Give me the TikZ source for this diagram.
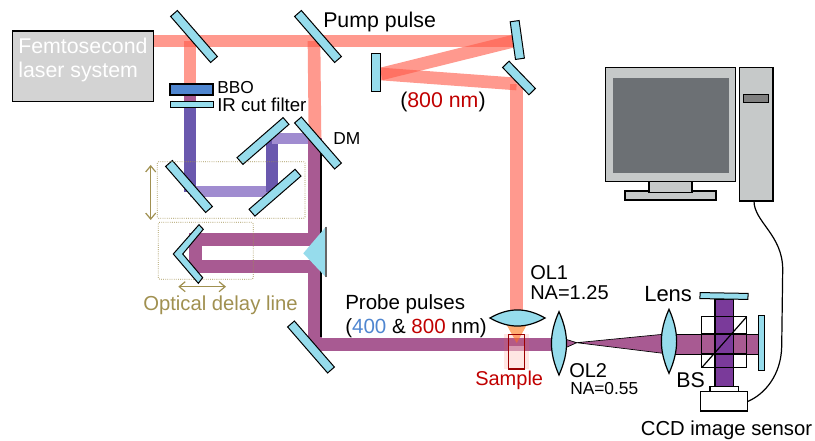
\documentclass[tikz,border=0pt]{standalone}
\usepackage{fontspec}
\setmainfont{Liberation Sans}
\usetikzlibrary{arrows.meta, backgrounds}

\definecolor{mirrorblue}{HTML}{96DCEC}
\definecolor{bbo}{HTML}{4F86D0}
\definecolor{darkred}{HTML}{C00000}
\definecolor{olive}{HTML}{A09050}
\definecolor{pump}{HTML}{FF5A48}
\definecolor{violet}{HTML}{6A58AE}
\definecolor{lilac}{HTML}{A08CD0}
\definecolor{probe}{HTML}{A85A92}
\definecolor{camera}{HTML}{7A3A9A}
\definecolor{pc}{HTML}{C6C9C9}
\definecolor{laserfill}{HTML}{D3D3D3}
\definecolor{screenfill}{HTML}{6C7074}

\begin{document}
\begin{tikzpicture}[
            x = 0.75pt,
            y = -0.75pt,
            > = {Straight Barb[length=4.5pt,width=7.5pt]}, % open head for the stage arrows
        ]

        \useasboundingbox (0,0) rectangle (815,441);

        \tikzstyle{mirror}=[
            draw = black,
            line width = 0.75pt,
            fill = mirrorblue,
            inner sep = 0pt,
            minimum width = 61*0.75pt,
            minimum height = 9*0.75pt
        ]
        \tikzstyle{smallmirror}=[
            mirror,
            minimum width = 38*0.75pt
        ]
        \tikzstyle{pumpbeam}=[draw = pump, opacity = 0.62, line width = 9.5pt]
        \tikzstyle{bluebeam}=[draw = violet, line width = 8.5pt]
        \tikzstyle{lilacbeam}=[draw = lilac, line width = 8.5pt]
        \tikzstyle{probebeam}=[draw = probe, line width = 10pt]
        \tikzstyle{lens}=[draw = black, line width = 0.9pt, fill = mirrorblue]
        \tikzstyle{stagebox}=[draw = olive, densely dotted, line width = 0.6pt, rounded corners = 1pt]
        \tikzstyle{stagearrow}=[draw = olive, line width = 0.9pt, <->]
        \tikzstyle{pcpart}=[draw = black, line width = 1pt, fill = pc]
        \tikzstyle{label}=[anchor = base west, inner sep = 0pt]

        % mirrors
        \foreach \name/\x/\y/\a in {m1/194/36.5/-49, m2/318/36.5/-49, m3/189/186.5/-49,
                                    dm/318/143/-49, m4/263/141/41, m5/275/192.7/41, m6/311/347/-49}
            \node[mirror, rotate=\a] (\name) at (\x,\y) {};

        \foreach \name/\x/\y/\a in {z1/517.3/40/-82, z2/376.2/72.5/90, z3/519/78/-46}
            \node[smallmirror, rotate=\a] (\name) at (\x,\y) {};

        \node[draw=black, fill=mirrorblue, line width=0.75pt, inner sep=0pt, minimum width=48*0.75pt,
              minimum height=6*0.75pt, rotate=-1] (top) at (724,296) {};
        \node[draw=black, fill=mirrorblue, line width=0.75pt, inner sep=0pt, minimum width=6*0.75pt,
              minimum height=55*0.75pt] (end) at (761.3,343.3) {};

        \node[draw=black, line width=0.9pt, fill=laserfill, inner sep=0pt, minimum width=141*0.75pt,
              minimum height=70.5*0.75pt] (laser) at (83,66.2) {};

        \node[draw=black, line width=1.4pt, fill=bbo, inner sep=0pt, minimum width=43*0.75pt,
              minimum height=11*0.75pt] (crystal) at (191.5,89.5) {};
        \node[draw=black, line width=0.7pt, fill=mirrorblue, inner sep=0pt, minimum width=43*0.75pt,
              minimum height=6*0.75pt] (filter) at (191.5,104.3) {};

        % beam points
        \coordinate (a0) at (153.5,41);
        \coordinate (a1) at (190,41);
        \coordinate (a2) at (314,41);
        \coordinate (a3) at (514,41);
        \coordinate (a4) at (381,74);
        \coordinate (a5) at (516.7,84);
        \coordinate (a6) at (516.7,325);
        \coordinate (b0) at (190,96);
        \coordinate (b1) at (190,101.5);
        \coordinate (b2) at (190,191.7);
        \coordinate (b3) at (272,191.7);
        \coordinate (b4) at (272,138.5);
        \coordinate (b5) at (315,138.5);
        \coordinate (c0) at (315,239.5);
        \coordinate (c1) at (195.7,239.5);
        \coordinate (c2) at (195.7,266.7);
        \coordinate (c3) at (315,266.7);
        \coordinate (c4) at (315,344.5);
        \coordinate (c5) at (553,344.5);

        \begin{scope}[on background layer]
            \foreach \from/\to in {a0/a1, a1/a2, a2/a3, a3/a4, a4/a5, a5/a6, a1/b0, a2/b5}
                \path[pumpbeam] (\from) -- (\to);

            \path[draw=probe, line width=8.5pt] (b0) -- (b1);
            \path[bluebeam] (b1) -- (b2);
            \path[lilacbeam] (b2) -- (b3);
            \path[bluebeam] (b3) -- (b4);
            \path[lilacbeam] (b4) -- (b5);

            \path[probebeam, line join=miter] (b5) -- (c0) -- (c1) -- (c2) -- (c3) -- (c4) -- (c5);

            % black edge along the probe
            \draw[line width=1.2pt] (320.7,153) -- (320.7,337);

            % focus in the sample
            \fill[orange!70!pump, opacity=0.6] (506.7,325) -- (526.7,325) -- (516.7,343) -- cycle;
            \fill[white, opacity=0.45] (508.3,346) rectangle (524.3,369);
            \fill[pump, opacity=0.15] (504,334) rectangle (529,369);

            % cones behind the lenses
            \filldraw[fill=probe, draw=black, line width=0.5pt] (565,339) -- (576.7,342.7) -- (565,348) -- cycle;
            \filldraw[fill=probe, draw=black, line width=0.5pt] (576.7,342.7) -- (663,334.3) -- (663,353.3) -- cycle;

            % imaging arm
            \filldraw[fill=probe, draw=black, line width=0.5pt] (675,334) rectangle (758,354);
            \filldraw[fill=camera, draw=black, line width=1pt] (715,299) rectangle (733.3,386.7);
        \end{scope}

        % delay stage
        \draw[stagebox] (157.3,161.7) rectangle (305,218.3);
        \draw[stagebox] (158.3,222.3) rectangle (253.3,279.3);
        \draw[stagearrow] (150.7,165) -- (150.7,220);
        \draw[stagearrow] (178.3,286.7) -- (226,286.7);

        \filldraw[fill=mirrorblue, draw=black, line width=0.75pt] (173.3,254) -- (199,224.7) -- (203.3,229.3)
            -- (182.7,254) -- (202.7,277.7) -- (198.3,283.3) -- cycle;
        \fill[mirrorblue] (303.3,253.3) -- (326,226.7) -- (326,277.3) -- cycle;
        \draw[gray!80!black, line width=1pt] (326,226.7) -- (326,277.3);

        % lenses
        \draw[lens] (490,318) to[bend left=30] (545,318) to[bend left=30] cycle;
        \draw[lens] (559,311.7) to[bend left=24] (559,375) to[bend left=24] cycle;
        \draw[lens] (669,309.3) to[bend left=24] (669,373.3) to[bend left=24] cycle;

        \draw[darkred!80!black, line width=0.9pt] (508.3,334.3) rectangle (524.3,369);

        % beam splitter
        \draw[line width=0.9pt] (701.7,316.7) rectangle (746.7,367.7);
        \draw[line width=0.9pt] (701.7,367.7) -- (746.7,316.7);
        \draw[line width=0.9pt] (715,316.7) -- (715,367.7) (733.3,316.7) -- (733.3,367.7);
        \draw[line width=0.9pt] (701.7,334) -- (746.7,334) (701.7,354) -- (746.7,354);

        % camera
        \node[draw=black, line width=0.9pt, fill=white, inner sep=0pt, minimum width=28.3*0.75pt,
              minimum height=5*0.75pt] (adapter) at (724.2,389.2) {};
        \node[draw=black, line width=0.9pt, fill=white, inner sep=0pt, minimum width=46.6*0.75pt,
              minimum height=19.3*0.75pt] (ccd) at (724,401.4) {};

        % computer
        \node[pcpart, inner sep=0pt, minimum width=129.6*0.75pt, minimum height=114.4*0.75pt] (monitor) at (670.5,124.5) {};
        \node[fill=screenfill, inner sep=0pt, minimum width=116*0.75pt, minimum height=95.6*0.75pt] (screen) at (671.3,125.5) {};
        \node[pcpart, inner sep=0pt, minimum width=91*0.75pt, minimum height=9*0.75pt] (foot) at (670.5,195.5) {};
        \node[pcpart, inner sep=0pt, minimum width=43*0.75pt, minimum height=11*0.75pt] (neck) at (670.5,187.2) {};
        \node[pcpart, inner sep=0pt, minimum width=33.3*0.75pt, minimum height=133.7*0.75pt] (tower) at (756.3,134.2) {};
        \node[draw=black, line width=1pt, fill=gray, inner sep=0pt, minimum width=24.6*0.75pt,
              minimum height=7.6*0.75pt] (slot) at (756,98.5) {};

        \coordinate (plug) at (754,201);
        \draw[line width=0.9pt] (plug) .. controls (754,222) and (783,235) .. (782.7,270)
            -- (781.7,346.7) .. controls (781,375) and (765,394) .. (ccd.east);

        % labels
        \node[label, text=white, font=\fontsize{16pt}{16pt}\selectfont] (name1) at (18,53.5) {Femtosecond};
        \node[label, text=white, font=\fontsize{16pt}{16pt}\selectfont] (name2) at (18,78) {laser system};
        \node[label, font=\fontsize{16pt}{16pt}\selectfont] (pumplabel) at (323,28) {Pump pulse};
        \node[label, font=\fontsize{13pt}{13pt}\selectfont] (bbolabel) at (217,94) {BBO};
        \node[label, font=\fontsize{14pt}{14pt}\selectfont] (filterlabel) at (217,111.7) {IR cut filter};
        \node[label, font=\fontsize{13pt}{13pt}\selectfont] (dmlabel) at (333,145) {DM};
        \node[label, text=olive, font=\fontsize{15.2pt}{16pt}\selectfont] (delaylabel) at (143,310.7) {Optical delay line};
        \node[label, font=\fontsize{15.4pt}{16pt}\selectfont] (probelabel) at (345,310) {Probe pulses};
        \node[label, font=\fontsize{15.4pt}{16pt}\selectfont] (nmlabel) at (345,334)
            {(\textcolor{bbo}{400} \& \textcolor{darkred}{800} nm)};
        \node[label, font=\fontsize{16pt}{16pt}\selectfont] (pumpnm) at (400,108) {(\textcolor{darkred}{800 nm})};
        \node[label, font=\fontsize{15pt}{16pt}\selectfont] (ol1) at (530,280) {OL1};
        \node[label, font=\fontsize{15pt}{16pt}\selectfont] (na1) at (530,300) {NA=1.25};
        \node[label, font=\fontsize{15pt}{16pt}\selectfont] (ol2) at (569,378) {OL2};
        \node[label, font=\fontsize{13pt}{13pt}\selectfont] (na2) at (570,395) {NA=0.55};
        \node[label, font=\fontsize{16.5pt}{16pt}\selectfont] (lenslabel) at (644,302) {Lens};
        \node[label, font=\fontsize{16pt}{16pt}\selectfont] (bslabel) at (676,387.7) {BS};
        \node[label, text=darkred, font=\fontsize{15pt}{16pt}\selectfont] (samplelabel) at (475,385.7) {Sample};
        \node[label, font=\fontsize{15.2pt}{16pt}\selectfont] (ccdlabel) at (640.7,435.7) {CCD image sensor};
    \end{tikzpicture}
\end{document}
